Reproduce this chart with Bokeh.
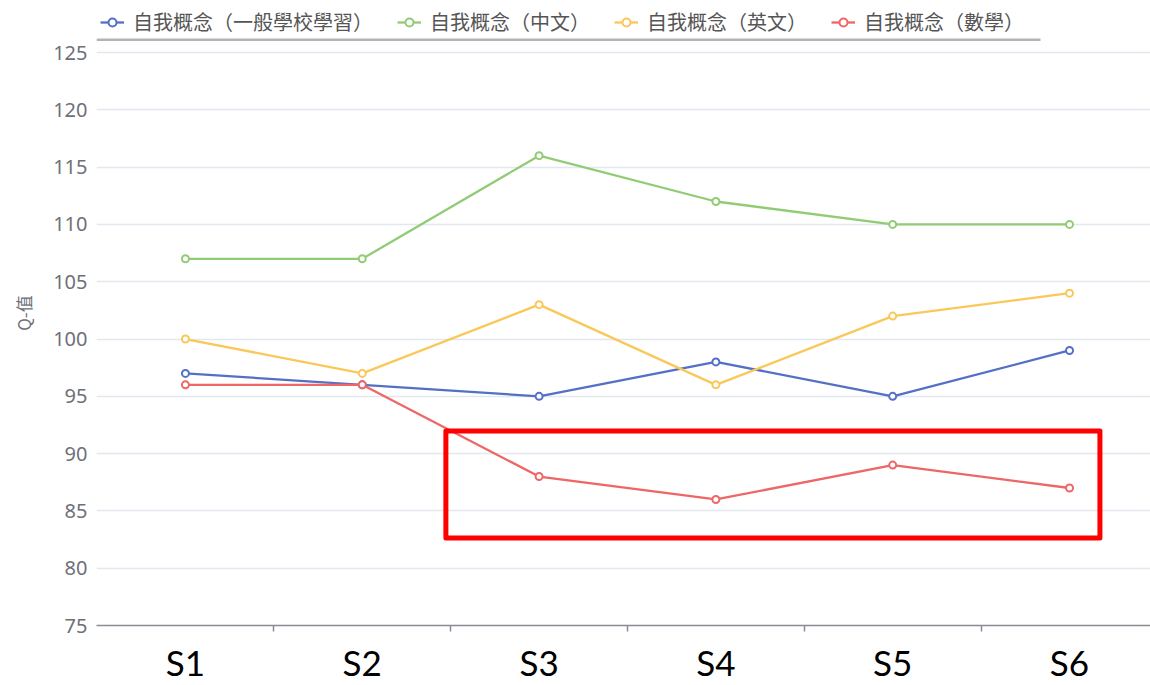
from bokeh.plotting import figure
from bokeh.models import Legend, LegendItem, FixedTicker, BoxAnnotation, Range1d
from bokeh.embed import file_html
from bokeh.resources import INLINE

# ---------------- data ----------------
stages = ["S1", "S2", "S3", "S4", "S5", "S6"]
series_names = ["自我概念（一般學校學習）", "自我概念（中文）", "自我概念（英文）", "自我概念（數學）"]
general_school = [97, 96, 95, 98, 95, 99]
chinese = [107, 107, 116, 112, 110, 110]
english = [100, 97, 103, 96, 102, 104]
maths = [96, 96, 88, 86, 89, 87]
y_ticks = [75, 80, 85, 90, 95, 100, 105, 110, 115, 120, 125]
y_axis_title = "Q-值"
# highlighted region (data units; x in stage index units)
highlight = dict(left=1.473, right=5.172, bottom=82.64, top=91.97)

# ---------------- styling ----------------
colors = ["#5470c6", "#91cc75", "#fac858", "#ee6666"]
axis_grey = "#6e7079"
grid_col = "#e3e7ef"
y_top_room = 129.54   # range end leaves room above 125 for the legend

xs = list(range(len(stages)))
series = [general_school, chinese, english, maths]

p = figure(width=1150, height=685, output_backend="svg", toolbar_location=None,
           x_range=Range1d(-0.503, 5.458), y_range=Range1d(y_ticks[0], y_top_room),
           min_border_left=96, min_border_right=0, min_border_top=0, min_border_bottom=60)
p.outline_line_color = None
p.background_fill_color = "white"
p.border_fill_color = "white"

# x axis
p.xaxis.ticker = FixedTicker(ticks=xs, minor_ticks=[i + 0.5 for i in xs[:-1]])
p.xaxis.major_label_overrides = {i: s for i, s in zip(xs, stages)}
p.xaxis.axis_line_color = "#8a8c94"
p.xaxis.axis_line_width = 1.5
p.xaxis.major_tick_line_color = None
p.xaxis.major_tick_out = 0
p.xaxis.major_tick_in = 0
p.xaxis.minor_tick_line_color = "#8a8c94"
p.xaxis.minor_tick_line_width = 1.5
p.xaxis.minor_tick_in = 0
p.xaxis.minor_tick_out = 6
p.xaxis.major_label_standoff = 9
p.xaxis.major_label_text_font = "Lato"
p.xaxis.major_label_text_font_size = "35px"
p.xaxis.major_label_text_color = "black"
p.xgrid.visible = False

# y axis
p.yaxis.ticker = FixedTicker(ticks=y_ticks)
p.yaxis.axis_line_color = None
p.yaxis.major_tick_line_color = None
p.yaxis.minor_tick_line_color = None
p.yaxis.major_tick_out = 0
p.yaxis.major_label_standoff = 9
p.yaxis.major_label_text_font = "Noto Sans"
p.yaxis.major_label_text_font_size = "20px"
p.yaxis.major_label_text_color = axis_grey
p.yaxis.axis_label = y_axis_title
p.yaxis.axis_label_text_font = "Noto Sans CJK TC"
p.yaxis.axis_label_text_font_size = "17px"
p.yaxis.axis_label_text_font_style = "normal"
p.yaxis.axis_label_text_color = axis_grey
p.yaxis.axis_label_standoff = 14
p.ygrid.ticker = FixedTicker(ticks=y_ticks)
p.ygrid.grid_line_color = grid_col
p.ygrid.grid_line_width = 1.5

items = []
for name, vals, col in zip(series_names, series, colors):
    lr = p.line(xs, vals, line_color=col, line_width=2.3)
    sr = p.scatter(xs, vals, size=7, fill_color="white", line_color=col, line_width=2)
    items.append(LegendItem(label=name, renderers=[lr, sr]))

legend = Legend(items=items, orientation="horizontal", location=(4, 589),
                glyph_width=24, glyph_height=20, label_standoff=9, spacing=24,
                padding=0, margin=0, border_line_color=None, background_fill_alpha=0,
                label_text_font="Noto Sans CJK TC", label_text_font_size="20px",
                label_text_color="#555555")
p.add_layout(legend, "center")

# thin grey rule under the legend
p.add_layout(BoxAnnotation(left=96, right=1040, top=38, bottom=40.5,
                           left_units="canvas", right_units="canvas",
                           top_units="canvas", bottom_units="canvas",
                           fill_color="#b4b4b4", fill_alpha=1, line_color=None))

# red highlight box
p.add_layout(BoxAnnotation(left=highlight["left"], right=highlight["right"],
                           bottom=highlight["bottom"], top=highlight["top"],
                           fill_color=None, fill_alpha=0, line_color="#ff0000",
                           line_alpha=1, line_width=5, line_join="round"))

open("out.html", "w").write(file_html(p, INLINE))
